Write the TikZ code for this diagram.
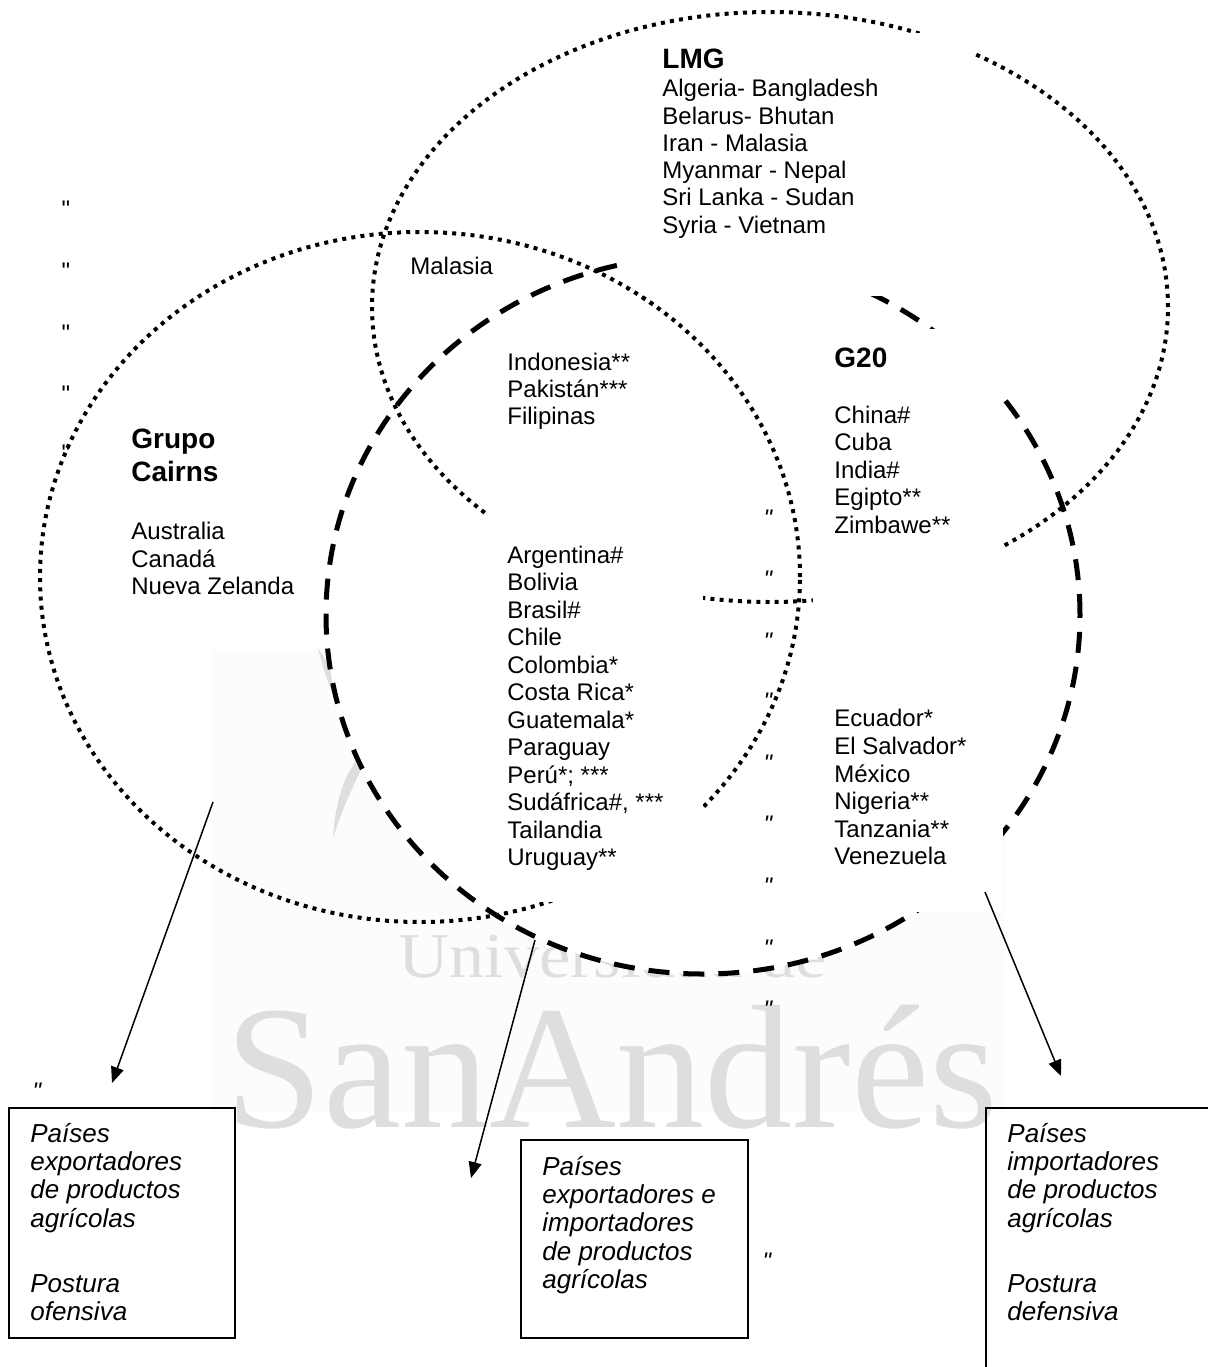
\documentclass[tikz,border=0pt]{standalone}
\usepackage{fontspec}
\setmainfont{Liberation Sans}
\newfontfamily\wmfont{Liberation Serif}
\newfontfamily\qfont{Liberation Sans}
\usetikzlibrary{arrows.meta}
\begin{document}
\begin{tikzpicture}[x=0.5pt,y=-0.5pt,
  dotl/.style={line width=2pt, dash pattern=on 2pt off 2.6pt},
  dashl/.style={line width=2.5pt, dash pattern=on 10.5pt off 7pt},
  cover/.style={fill=white, draw=none},
  txt/.style={anchor=base west, inner sep=0pt, font=\fontsize{12}{14}\selectfont},
  ttl/.style={anchor=base west, inner sep=0pt, font=\fontsize{14}{16}\selectfont\bfseries},
  itx/.style={anchor=base west, inner sep=0pt, font=\fontsize{13}{15}\selectfont\itshape},
  qm/.style={anchor=base, inner sep=0pt, font=\qfont\fontsize{12}{14}\selectfont},
  qmi/.style={qm, font=\qfont\fontsize{12}{14}\selectfont\itshape},
  wm/.style={text=black!13, inner sep=0pt, anchor=base west},
  conn/.style={line width=0.75pt, -{Triangle[length=8pt,width=6.5pt]}},
  frame/.style={draw, line width=1pt, anchor=north west, inner sep=0pt}
]
\useasboundingbox (0,0) rectangle (1208,1367);
\clip (0,0) rectangle (1208,1367);

% watermark
\fill[black!1] (212,650) rectangle (1005,1112);
\fill[black!13] (318,648) .. controls (345,690) and (356,720) .. (362,748) .. controls (344,722) and (328,690) .. (318,648);
\fill[black!13] (333,838) .. controls (336,790) and (350,760) .. (376,740) .. controls (360,772) and (345,800) .. (333,838);
\node[wm, font=\wmfont\fontsize{32}{32}\selectfont, xscale=1.1] (wmU) at (398,977) {Universidad de};
\node[wm, font=\wmfont\fontsize{88}{88}\selectfont] (wmS) at (225,1127) {SanAndrés};

% G20 ellipse fill
\fill[white] (703,615) ellipse [x radius=188.5pt, y radius=179.5pt];

% ellipses
\draw[dotl] (420,577) ellipse [x radius=190pt, y radius=172.5pt];
\draw[dotl] (770,307) ellipse [x radius=199pt, y radius=147.5pt];
\draw[dashl] (703,615) ellipse [x radius=188.5pt, y radius=179.5pt];

% white text frames
\fill[cover] (628,33) rectangle (975,296);
\fill[cover] (813,329) rectangle (1003,912);
\fill[cover] (487,510) rectangle (703,902);

% Cairns arc passing the corner of the LMG frame stays visible
\begin{scope}
  \clip (626,270) rectangle (662,305);
  \draw[dotl] (420,577) ellipse [x radius=190pt, y radius=172.5pt];
\end{scope}

% LMG
\node[ttl] (lmgT) at (662,68) {LMG};
\foreach \t [count=\i from 0] in {Algeria- Bangladesh, Belarus- Bhutan, Iran - Malasia, Myanmar - Nepal, Sri Lanka - Sudan, Syria - Vietnam}
  \node[txt] (lmg\i) at (662,{96.7+27.3*\i}) {\t};

\node[txt] (mal) at (410,274) {Malasia};

\foreach \t [count=\i from 0] in {Indonesia**, Pakistán***, Filipinas}
  \node[txt] (ind\i) at (507,{370+27.3*\i}) {\t};

% Cairns
\node[ttl] (cT1) at (131,448) {Grupo};
\node[ttl] (cT2) at (131,481) {Cairns};
\foreach \t [count=\i from 0] in {Australia, Canadá, Nueva Zelanda}
  \node[txt] (cai\i) at (131,{539.6+27.6*\i}) {\t};

% G20
\node[ttl] (gT) at (834,367) {G20};
\foreach \t [count=\i from 0] in {China\#, Cuba, India\#, Egipto**, Zimbawe**}
  \node[txt] (g\i) at (834,{423.3+27.5*\i}) {\t};

\foreach \t [count=\i from 0] in {Argentina\#, Bolivia, Brasil\#, Chile, Colombia*, Costa Rica*, Guatemala*, Paraguay, Perú*; ***, {Sudáfrica\#, ***}, Tailandia, Uruguay**}
  \node[txt] (arg\i) at (507,{563+27.5*\i}) {\t};

\foreach \t [count=\i from 0] in {Ecuador*, El Salvador*, México, Nigeria**, Tanzania**, Venezuela}
  \node[txt] (ecu\i) at (834,{726.7+27.65*\i}) {\t};

% quote marks
\foreach \y [count=\i] in {217,279,341,402,461}
  \node[qm] (ql\i) at (66,\y) {"};
\foreach \y [count=\i] in {526,587,649,709,771,832,894,956,1017}
  \node[qmi] (qc\i) at (768,\y) {"};
\node[qmi] (qa) at (37,1099) {"};
\node[qmi] (qb) at (767,1269) {"};

% bottom frames
\node[frame, minimum width=113pt, minimum height=115pt] (boxL) at (8,1107) {};
\node[frame, minimum width=113.5pt, minimum height=99pt] (boxM) at (520,1139) {};
\node[frame, minimum width=130pt, minimum height=150pt] (boxR) at (985,1107) {};

\foreach \t/\y [count=\i] in {Países/1142, exportadores/1170.3, de productos/1198.6, agrícolas/1227, Postura/1292, ofensiva/1320}
  \node[itx] (bl\i) at (30,\y) {\t};
\foreach \t/\y [count=\i] in {Países/1175, exportadores e/1203.3, importadores/1231.6, de productos/1260, agrícolas/1288.3}
  \node[itx] (bm\i) at (542,\y) {\t};
\foreach \t/\y [count=\i] in {Países/1142, importadores/1170.3, de productos/1198.6, agrícolas/1227, Postura/1292, defensiva/1320}
  \node[itx] (br\i) at (1007,\y) {\t};

% connectors
\coordinate (aL) at (213,802);
\coordinate (tL) at (112,1083);
\coordinate (aM) at (535,940);
\coordinate (tM) at (471,1178);
\coordinate (aR) at (985,892);
\coordinate (tR) at (1061,1076);
\draw[conn] (aL) -- (tL);
\draw[conn] (aM) -- (tM);
\draw[conn] (aR) -- (tR);
\end{tikzpicture}
\end{document}
